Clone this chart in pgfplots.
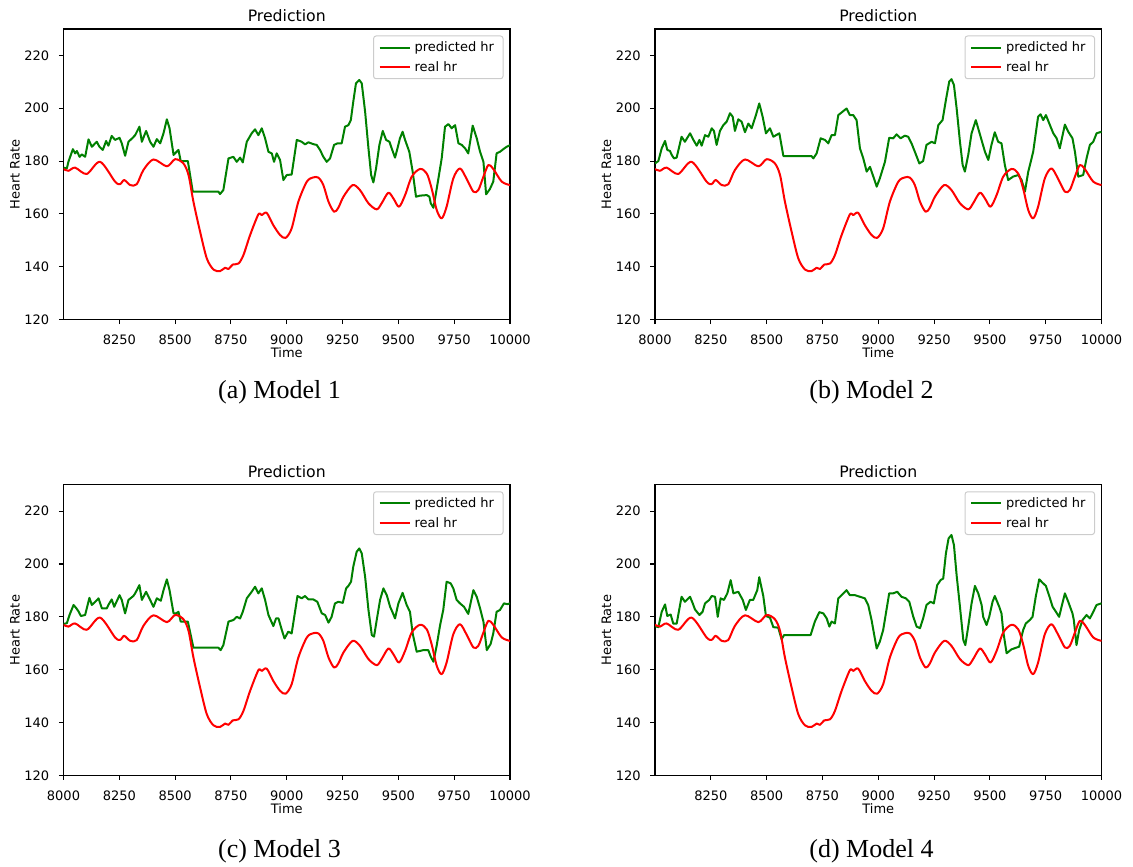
\documentclass[border=0pt]{standalone}
\usepackage{fontspec}
\setmainfont{Liberation Serif}
\newfontfamily\dejavu{DejaVu Sans}
\usepackage{pgfplots}
\usepackage{pgfplotstable}
\pgfplotsset{compat=1.18}
\definecolor{mplgreen}{HTML}{008000}
\definecolor{mplred}{HTML}{FF0000}
\newcommand\mplfont{\dejavu\fontsize{13}{15.6}\selectfont}
\newcommand\mpltitle{\dejavu\fontsize{15.7}{18.8}\selectfont}
\newcommand\capfont{\fontsize{26}{30}\selectfont}

\pgfplotstableread{
t hr
8000 177.0
8022 176.3
8052 177.5
8104 175.1
8164 179.7
8231 172.2
8254 171.3
8272 172.8
8299 170.9
8328 171.2
8358 176.6
8403 180.6
8463 178.0
8500 180.7
8537 179.1
8560 174.7
8582 164.6
8612 153.2
8642 143.1
8672 138.9
8701 138.3
8724 139.6
8739 139.1
8758 140.8
8784 141.2
8806 144.4
8836 152.0
8873 159.8
8888 159.5
8910 160.4
8940 155.7
8970 152.0
8995 150.9
9022 154.5
9052 164.6
9090 172.2
9119 173.8
9142 173.7
9164 170.9
9187 164.6
9212 160.8
9231 162.3
9254 166.5
9295 170.9
9328 169.0
9366 164.0
9403 161.7
9425 164.0
9455 168.0
9478 165.8
9503 162.7
9530 167.1
9560 174.1
9597 177.0
9627 175.3
9649 169.6
9672 161.4
9694 158.3
9716 162.7
9746 173.4
9776 177.2
9806 173.2
9836 168.4
9858 169.0
9881 174.1
9903 178.5
9925 177.0
9963 172.2
10000 170.9
}\realhr

\pgfplotsset{
  hrstyle/.style={
    scale only axis, width=446.5pt, height=290.5pt, anchor=south west,
    xmin=8000, xmax=10000, ymin=120, ymax=230,
    ytick={120,140,...,220},
    scaled x ticks=false, scaled y ticks=false,
    tick align=outside, major tick length=4.6pt,
    xtick pos=bottom, ytick pos=left,
    axis line style={line width=1.05pt, black},
    every tick/.style={line width=1.05pt, black},
    title=Prediction,
    every axis title shift=0pt,
    title style={font=\mpltitle, at={(0.5,1)}, anchor=base, yshift=7.5pt},
    xlabel=Time, ylabel=Heart Rate,
    xlabel style={font=\mplfont, at={(axis description cs:0.5,0)}, anchor=base, yshift=-38.4pt},
    ylabel style={font=\mplfont, at={(axis description cs:-0.098,0.5)}, anchor=base},
    tick label style={font=\mplfont},
    xticklabel style={anchor=base, yshift=-20.7pt, /pgf/number format/fixed},
    yticklabel style={anchor=east, inner sep=0pt, xshift=-9.5pt},
    /pgf/number format/1000 sep={},
    /pgf/number format/assume math mode=true,
    legend style={at={(1,1)}, anchor=north east, xshift=-6.5pt, yshift=-6.5pt,
      draw=black!20, line width=1pt, rounded corners=2.5pt, fill=white,
      fill opacity=0.8, text opacity=1, font=\mplfont, cells={anchor=west},
      inner xsep=5pt, inner ysep=2pt, nodes={inner sep=4pt, text depth=0.15em}},
    legend image code/.code={\draw[##1, line width=2pt] (0pt,0pt) -- (30pt,0pt);},
    legend cell align=left,
  },
  greenl/.style={color=mplgreen, line width=2pt, line join=round},
  redl/.style={color=mplred, line width=2pt, line join=round, smooth},
}

\begin{document}
\begin{tikzpicture}
\path (0pt,0pt) rectangle (1133pt,865pt);

% (a)
\begin{axis}[hrstyle, at={(63.5pt,545.5pt)}, xtick={8250,8500,...,10000}]
\addplot[greenl] coordinates {
(8000,177.5)(8015,177.2)(8022,179.7)(8042,184.5)(8052,182.9)(8060,183.8)(8072,181.6)(8082,182.5)(8097,181.6)(8112,188.2)
(8127,185.4)(8149,187.3)(8161,185.4)(8176,184.2)(8191,187.6)(8201,185.8)(8216,189.5)(8231,188.0)(8251,188.8)(8261,186.7)
(8276,182.0)(8291,187.3)(8310,188.8)(8321,189.8)(8340,193.0)(8351,187.3)(8370,191.4)(8388,187.3)(8403,185.4)(8418,188.3)
(8433,186.7)(8448,190.5)(8463,195.8)(8475,192.4)(8493,182.3)(8504,183.3)(8515,184.2)(8525,180.0)(8557,180.0)(8579,168.4)
(8694,168.4)(8701,167.5)(8716,169.0)(8739,181.0)(8761,181.6)(8776,179.7)(8791,181.3)(8803,179.5)(8821,187.3)(8843,190.5)
(8858,192.0)(8873,189.8)(8888,192.4)(8903,188.6)(8918,183.5)(8933,182.9)(8943,179.7)(8955,182.9)(8970,180.4)(8985,172.8)
(9000,174.7)(9022,174.9)(9045,188.0)(9067,187.3)(9082,186.3)(9097,187.1)(9119,186.4)(9134,186.1)(9149,184.2)(9164,181.6)
(9179,179.7)(9194,181.0)(9212,186.1)(9227,186.7)(9246,186.7)(9261,193.0)(9276,193.6)(9287,195.5)(9298,202.5)(9310,209.4)
(9325,210.7)(9336,209.4)(9351,198.7)(9366,184.8)(9378,174.7)(9388,171.9)(9400,177.2)(9415,186.1)(9430,191.4)(9445,188.0)
(9460,187.3)(9470,184.8)(9485,181.3)(9496,184.8)(9507,188.6)(9519,191.1)(9530,188.0)(9549,183.5)(9564,176.0)(9579,166.5)
(9597,166.9)(9627,167.1)(9639,166.5)(9645,164.0)(9657,162.3)(9667,167.1)(9679,173.2)(9694,181.0)(9709,193.0)(9724,194.0)
(9739,192.4)(9754,193.6)(9769,186.7)(9784,186.1)(9799,184.8)(9813,182.9)(9833,193.4)(9851,188.6)(9866,183.5)(9881,179.7)
(9893,167.4)(9910,169.4)(9925,172.2)(9940,182.9)(9955,183.5)(9970,184.5)(9985,185.4)(10000,186.0)
};
\addlegendentry{predicted hr}
\addplot[redl] table[x=t, y=hr] {\realhr};
\addlegendentry{real hr}
\end{axis}

% (b)
\begin{axis}[hrstyle, at={(655pt,545.5pt)}, xtick={8000,8250,...,10000}]
\addplot[greenl] coordinates {
(8000,179.1)(8015,180.0)(8030,184.8)(8045,187.6)(8055,184.2)(8067,183.8)(8075,182.3)(8085,181.0)(8097,181.3)(8119,189.2)
(8134,187.3)(8157,190.5)(8172,188.0)(8187,185.8)(8199,188.0)(8209,185.8)(8224,189.8)(8239,189.2)(8254,192.4)(8264,191.4)
(8276,186.1)(8291,191.4)(8306,193.6)(8321,194.9)(8336,198.1)(8348,196.8)(8358,191.4)(8373,195.8)(8388,194.9)(8403,190.9)
(8418,194.2)(8433,192.4)(8452,197.4)(8467,201.8)(8482,196.8)(8497,190.5)(8515,192.4)(8530,189.2)(8557,190.5)(8575,181.9)
(8701,181.9)(8709,181.0)(8724,182.9)(8742,188.6)(8761,188.0)(8776,186.7)(8791,189.8)(8806,189.8)(8821,197.4)(8836,198.4)
(8858,199.9)(8873,197.4)(8888,197.4)(8903,195.5)(8918,184.8)(8933,181.0)(8948,176.0)(8963,177.8)(8978,174.1)(8993,170.3)
(9007,173.4)(9030,179.7)(9049,188.8)(9067,188.6)(9082,190.1)(9100,188.6)(9119,189.6)(9134,189.2)(9149,186.7)(9164,183.5)
(9184,179.1)(9201,180.0)(9216,186.1)(9239,187.3)(9254,186.7)(9269,193.6)(9288,195.5)(9303,203.1)(9318,210.1)(9328,211.0)
(9339,208.8)(9351,200.0)(9366,187.3)(9378,178.5)(9388,176.0)(9403,182.3)(9418,190.5)(9437,195.5)(9452,191.1)(9467,186.7)
(9478,183.5)(9493,180.4)(9507,186.1)(9522,190.9)(9537,187.3)(9552,186.7)(9567,178.5)(9582,172.8)(9604,174.1)(9627,174.7)
(9642,172.8)(9657,168.4)(9672,176.0)(9694,183.5)(9716,196.8)(9727,197.7)(9739,195.5)(9751,197.4)(9769,193.6)(9784,190.5)
(9799,188.6)(9813,184.8)(9836,193.8)(9851,191.1)(9870,188.6)(9881,183.5)(9896,174.1)(9918,174.7)(9933,181.0)(9948,186.1)
(9963,187.3)(9978,190.5)(10000,191.1)
};
\addlegendentry{predicted hr}
\addplot[redl] table[x=t, y=hr] {\realhr};
\addlegendentry{real hr}
\end{axis}

% (c)
\begin{axis}[hrstyle, at={(63.5pt,89.7pt)}, xtick={8000,8250,...,10000}]
\addplot[greenl] coordinates {
(8000,177.3)(8015,177.6)(8027,180.7)(8045,184.5)(8057,183.3)(8067,182.1)(8078,180.3)(8097,180.7)(8116,187.2)(8127,184.5)
(8142,185.7)(8157,187.0)(8172,183.2)(8194,183.2)(8201,184.5)(8216,186.6)(8227,183.8)(8251,188.2)(8261,186.4)(8276,181.3)
(8291,186.4)(8313,187.9)(8321,188.9)(8340,192.0)(8351,186.4)(8370,189.5)(8388,186.4)(8403,183.8)(8418,187.0)(8436,186.1)
(8448,190.1)(8463,194.2)(8475,190.1)(8493,181.3)(8504,181.3)(8515,181.9)(8525,178.2)(8557,178.2)(8582,168.3)(8694,168.3)
(8704,167.4)(8716,169.3)(8739,178.2)(8761,178.8)(8776,180.0)(8791,179.4)(8803,181.9)(8821,187.0)(8843,189.5)(8858,191.4)
(8873,188.9)(8888,190.8)(8903,186.4)(8918,180.7)(8940,176.5)(8952,179.4)(8963,179.4)(8978,175.0)(8990,171.8)(9007,174.4)
(9022,173.7)(9048,187.9)(9067,187.0)(9082,187.9)(9097,186.6)(9119,186.6)(9137,185.7)(9157,181.3)(9172,180.7)(9187,177.8)
(9201,180.0)(9216,185.1)(9231,185.7)(9251,185.3)(9266,190.8)(9276,191.7)(9288,193.3)(9298,199.0)(9313,204.6)(9325,205.9)
(9336,204.0)(9351,195.2)(9366,182.6)(9381,173.1)(9391,172.5)(9403,178.8)(9418,186.4)(9433,190.8)(9448,188.2)(9463,183.8)
(9473,181.9)(9485,179.4)(9500,185.1)(9519,189.1)(9537,184.5)(9552,181.9)(9564,173.7)(9582,166.8)(9612,167.4)(9634,167.4)
(9645,164.9)(9657,163.0)(9672,169.3)(9687,176.9)(9701,182.6)(9716,193.3)(9734,192.7)(9746,190.8)(9761,186.4)(9776,185.1)
(9794,183.8)(9813,181.1)(9836,190.1)(9851,187.6)(9866,183.2)(9881,178.2)(9896,167.4)(9913,169.7)(9925,173.7)(9940,181.9)
(9955,182.6)(9973,185.1)(9988,184.8)(10000,185.1)
};
\addlegendentry{predicted hr}
\addplot[redl] table[x=t, y=hr] {\realhr};
\addlegendentry{real hr}
\end{axis}

% (d)
\begin{axis}[hrstyle, at={(655pt,89.7pt)}, xtick={8250,8500,...,10000}]
\addplot[greenl] coordinates {
(8000,176.5)(8015,176.1)(8030,181.9)(8045,184.7)(8055,180.3)(8070,180.9)(8082,177.4)(8097,177.4)(8119,187.6)(8134,185.7)
(8157,187.6)(8169,185.1)(8179,182.8)(8199,180.7)(8213,181.9)(8224,185.1)(8243,186.4)(8254,187.9)(8269,187.6)(8281,180.0)
(8294,187.0)(8309,186.4)(8324,188.9)(8339,193.9)(8351,188.9)(8373,189.5)(8393,186.4)(8407,182.6)(8425,186.4)(8440,186.4)
(8458,190.1)(8467,195.0)(8485,187.9)(8497,180.3)(8515,179.7)(8530,176.1)(8552,175.9)(8567,171.5)(8578,173.1)(8697,173.1)
(8716,178.2)(8736,181.8)(8754,181.3)(8769,179.4)(8781,176.3)(8791,178.2)(8806,177.5)(8821,187.0)(8836,188.2)(8858,190.1)
(8873,188.2)(8896,188.2)(8918,187.6)(8940,187.0)(8955,184.5)(8970,178.8)(8982,173.1)(8993,168.0)(9007,170.6)(9022,175.0)
(9049,188.9)(9067,188.9)(9085,189.5)(9104,187.6)(9124,187.0)(9139,185.7)(9157,180.0)(9172,176.3)(9187,175.7)(9201,179.4)
(9216,184.5)(9234,185.7)(9249,185.1)(9264,192.0)(9279,193.9)(9291,194.5)(9303,204.0)(9315,209.7)(9328,211.0)(9339,207.2)
(9351,195.8)(9366,183.8)(9381,171.2)(9390,169.3)(9403,176.3)(9418,185.1)(9433,191.7)(9448,188.9)(9463,184.5)(9470,180.0)
(9485,176.9)(9497,180.0)(9512,185.7)(9522,187.9)(9542,183.8)(9552,181.3)(9560,174.4)(9575,166.2)(9597,167.7)(9631,168.7)
(9649,175.0)(9661,177.5)(9679,178.8)(9691,180.0)(9706,187.9)(9721,194.2)(9736,192.9)(9751,191.7)(9766,187.9)(9781,183.8)
(9796,181.9)(9810,180.0)(9836,188.9)(9851,185.7)(9870,181.3)(9876,178.8)(9888,169.3)(9900,175.0)(9915,178.8)(9933,180.7)
(9948,179.4)(9963,181.9)(9978,184.5)(10000,185.1)
};
\addlegendentry{predicted hr}
\addplot[redl] table[x=t, y=hr] {\realhr};
\addlegendentry{real hr}
\end{axis}

\node[font=\capfont, anchor=base] at (279.5pt,466pt) {(a) Model 1};
\node[font=\capfont, anchor=base] at (871.5pt,466pt) {(b) Model 2};
\node[font=\capfont, anchor=base] at (279.5pt,7.5pt) {(c) Model 3};
\node[font=\capfont, anchor=base] at (871.5pt,7.5pt) {(d) Model 4};
\end{tikzpicture}
\end{document}
